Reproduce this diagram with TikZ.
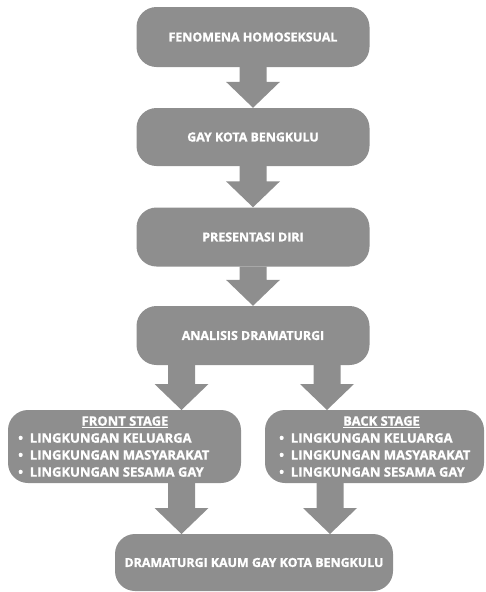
\documentclass[tikz,border=0pt]{standalone}
\usepackage{fontspec}
\setmainfont{Open Sans}[BoldFeatures={FakeBold=1.3}]
\usetikzlibrary{calc}
\definecolor{boxgray}{RGB}{142,142,142}
\tikzset{
  box/.style={fill=boxgray, rounded corners=20pt, minimum width=#1, inner sep=0pt},
  box/.default=233pt,
  ttl/.style={text=white, font=\bfseries\fontsize{12.4}{14}\selectfont, inner sep=0pt},
  lst/.style={text=white, font=\bfseries\fontsize{13}{17}\selectfont, inner sep=0pt, align=left},
}
\newcommand\fatarrow[2]{%
  \fill[boxgray] let \p1=(#1), \p2=(#2) in
    (\x1-13.5pt,\y1) -- (\x1+13.5pt,\y1) -- (\x1+13.5pt,\y2+26pt) -- (\x1+27pt,\y2+26pt)
    -- (\x2,\y2) -- (\x1-27pt,\y2+26pt) -- (\x1-13.5pt,\y2+26pt) -- cycle;}
\begin{document}
\begin{tikzpicture}[x=1pt,y=-1pt]
\useasboundingbox (0,0) rectangle (485,592);
% boxes
\node[box, minimum height=60pt] (b1) at (253,37) {};
\node[box, minimum height=58pt] (b2) at (253,137) {};
\node[box, minimum height=59pt] (b3) at (253,237) {};
\node[box, minimum height=59pt] (b4) at (253,335.5) {};
\node[box=233pt, minimum height=73pt] (fs) at (124.5,446.5) {};
\node[box=219pt, minimum height=73pt] (bs) at (374.5,446.5) {};
\node[box=278pt, minimum height=57pt] (b7) at (254,562.5) {};
% titles
\node[ttl] (t1) at (b1) {FENOMENA HOMOSEKSUAL};
\node[ttl] (t2) at (b2) {GAY KOTA BENGKULU};
\node[ttl] (t3) at (b3) {PRESENTASI DIRI};
\node[ttl] (t4) at (b4) {ANALISIS DRAMATURGI};
\node[ttl] (t7) at (b7) {DRAMATURGI KAUM GAY KOTA BENGKULU};
% stage contents
\node[lst] (fh) at (125,422) {\underline{FRONT STAGE}};
\node[lst, anchor=west] (fl) at (18,455) {\textbullet\ \ LINGKUNGAN KELUARGA\\\textbullet\ \ LINGKUNGAN MASYARAKAT\\\textbullet\ \ LINGKUNGAN SESAMA GAY};
\node[lst] (bh) at (381.5,422) {\underline{BACK STAGE}};
\node[lst, anchor=west] (bl) at (279,455) {\textbullet\ \ LINGKUNGAN KELUARGA\\\textbullet\ \ LINGKUNGAN MASYARAKAT\\\textbullet\ \ LINGKUNGAN SESAMA GAY};
% arrows
\fatarrow{b1.south}{b2.north}
\fatarrow{b2.south}{b3.north}
\fatarrow{b3.south}{b4.north}
\coordinate (l1) at (181.5,365); \coordinate (l2) at (181.5,410);
\coordinate (r1) at (327,365); \coordinate (r2) at (327,410);
\fatarrow{l1}{l2}
\fatarrow{r1}{r2}
\coordinate (l3) at (181.5,483); \coordinate (l4) at (181.5,534);
\coordinate (r3) at (330,483); \coordinate (r4) at (330,534);
\fatarrow{l3}{l4}
\fatarrow{r3}{r4}
\end{tikzpicture}
\end{document}
